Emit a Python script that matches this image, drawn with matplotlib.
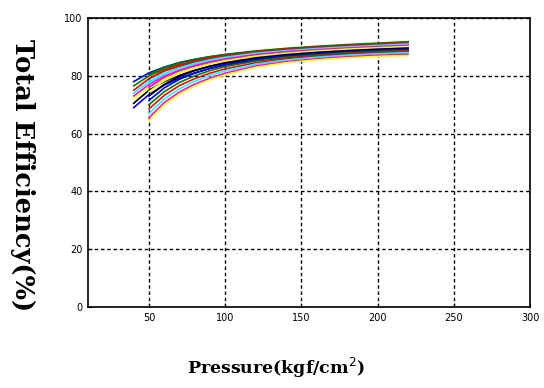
import numpy as np
import matplotlib.pyplot as plt

# pressure points (kgf/cm2) for the two families of curves
p_a = [40, 50, 60, 70, 80, 90, 100, 120, 140, 160, 180, 200, 220]
p_b = [50, 60, 70, 80, 90, 100, 120, 140, 160, 180, 200, 220]

# total efficiency (%) curves starting at 40
eff_a = [
    [78.0, 81.0, 83.0, 84.6, 85.7, 86.6, 87.3, 88.4, 89.3, 90.0, 90.6, 91.1, 91.6],
    [76.5, 80.0, 82.3, 84.0, 85.2, 86.1, 86.9, 88.0, 88.9, 89.6, 90.2, 90.7, 91.2],
    [75.0, 79.0, 81.6, 83.3, 84.6, 85.6, 86.4, 87.6, 88.5, 89.2, 89.8, 90.3, 90.7],
    [74.0, 78.0, 80.8, 82.6, 84.0, 85.1, 86.0, 87.2, 88.1, 88.8, 89.4, 89.9, 90.3],
    [73.0, 77.0, 79.9, 81.9, 83.4, 84.6, 85.5, 86.8, 87.7, 88.4, 89.0, 89.5, 89.9],
    [72.0, 76.0, 79.0, 81.1, 82.7, 84.0, 85.0, 86.4, 87.3, 88.0, 88.6, 89.1, 89.5],
    [70.5, 75.0, 78.0, 80.2, 81.9, 83.3, 84.4, 85.9, 86.9, 87.6, 88.2, 88.7, 89.1],
    [69.0, 73.5, 76.8, 79.2, 81.0, 82.5, 83.7, 85.3, 86.4, 87.2, 87.8, 88.3, 88.7],
]

# total efficiency (%) curves starting at 50
eff_b = [
    [80.5, 82.8, 84.4, 85.6, 86.6, 87.4, 88.6, 89.5, 90.2, 90.8, 91.3, 91.8],
    [79.0, 81.8, 83.6, 85.0, 86.1, 86.9, 88.2, 89.1, 89.8, 90.4, 90.9, 91.4],
    [77.5, 80.6, 82.7, 84.3, 85.5, 86.4, 87.8, 88.7, 89.4, 90.0, 90.5, 91.0],
    [76.0, 79.5, 81.8, 83.5, 84.8, 85.8, 87.3, 88.3, 89.0, 89.6, 90.1, 90.5],
    [74.5, 78.3, 80.8, 82.7, 84.1, 85.2, 86.8, 87.8, 88.6, 89.2, 89.7, 90.1],
    [73.0, 77.0, 79.8, 81.8, 83.3, 84.5, 86.2, 87.3, 88.1, 88.7, 89.2, 89.6],
    [71.5, 75.8, 78.8, 80.9, 82.6, 83.9, 85.7, 86.9, 87.7, 88.3, 88.8, 89.2],
    [70.0, 74.5, 77.7, 80.0, 81.8, 83.2, 85.1, 86.4, 87.2, 87.9, 88.4, 88.8],
    [68.5, 73.2, 76.6, 79.0, 80.9, 82.4, 84.5, 85.9, 86.8, 87.5, 88.0, 88.4],
    [67.0, 72.0, 75.5, 78.1, 80.1, 81.7, 84.0, 85.4, 86.4, 87.1, 87.6, 88.0],
    [65.5, 70.7, 74.4, 77.1, 79.2, 80.9, 83.4, 84.9, 85.9, 86.6, 87.1, 87.5],
    [64.5, 69.8, 73.6, 76.4, 78.6, 80.3, 82.9, 84.5, 85.5, 86.2, 86.7, 87.0],
]

colors = ['blue', 'green', 'red', 'cyan', 'magenta', 'yellow', 'black']

fig = plt.figure(figsize=(5.44, 3.88), dpi=100)
ax = fig.add_axes([88 / 544, 1 - 307 / 388, (530 - 88) / 544, (307 - 18) / 388])

i = 0
for e in eff_a:
    ax.plot(p_a, e, color=colors[i % 7], lw=1.2)
    i += 1
for e in eff_b:
    ax.plot(p_b, e, color=colors[i % 7], lw=1.2)
    i += 1

ax.set_xlim(10, 300)
ax.set_ylim(0, 100)
ax.set_xticks([50, 100, 150, 200, 250, 300])
ax.set_yticks([0, 20, 40, 60, 80, 100])
ax.tick_params(direction='in', labelsize=7, length=3, pad=4)
ax.grid(True, color='black', linestyle=(0, (2.5, 2)), lw=1)
for s in ax.spines.values():
    s.set_linewidth(1.2)

# axis titles placed in figure pixels like the original
fig.text(276 / 544, 1 - 368 / 388, 'Pressure(kgf/cm$^2$)', family='DejaVu Serif',
         fontweight='bold', fontsize=12.5, ha='center', va='center')
fig.text(22 / 544, 1 - 175 / 388, 'Total Efficiency(%)', family='DejaVu Serif',
         fontweight='bold', fontsize=18.5, ha='center', va='center', rotation=-90)

fig.savefig('out.png', dpi=100)
